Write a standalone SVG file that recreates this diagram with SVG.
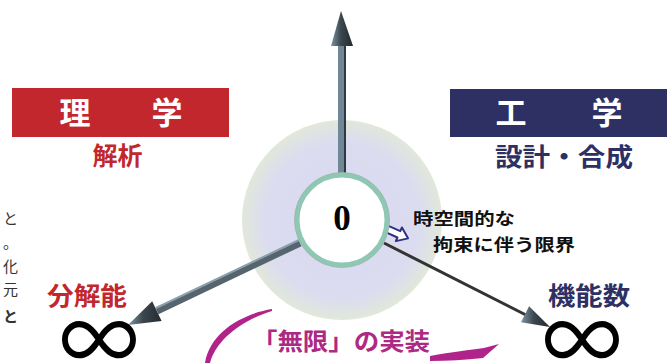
<svg xmlns="http://www.w3.org/2000/svg" width="667" height="363" viewBox="0 0 667 363">
<style>
.jp{font-family:"Noto Sans CJK JP","Noto Sans CJK SC",sans-serif;font-weight:bold}
.hd{font-size:31px;fill:#ffffff;text-anchor:middle}
.red{fill:#c1272d}
.navy{fill:#2e3063}
.mag{fill:#ad2a84}
.inf{font-family:Inter,"DejaVu Sans",sans-serif;font-weight:300;font-size:98px;fill:#000}
.side{font-family:"Noto Sans CJK JP",sans-serif;font-size:15px;fill:#333}
</style>
<defs>
<radialGradient id="halo" cx="0.5" cy="0.5" r="0.5">
<stop offset="0" stop-color="#d8d8f0"/>
<stop offset="0.78" stop-color="#dcdcf0"/>
<stop offset="1" stop-color="#e1e8da"/>
</radialGradient>
<linearGradient id="headG" x1="0" y1="0" x2="1" y2="0">
<stop offset="0" stop-color="#7d96a5"/>
<stop offset="0.45" stop-color="#3b474e"/>
<stop offset="1" stop-color="#232a2e"/>
</linearGradient>
</defs>

<g id="halo-node">
<circle cx="342" cy="220" r="100" fill="url(#halo)"/>
</g>

<g id="connectors">
<line x1="342" y1="174" x2="342" y2="44" stroke="#6f8797" stroke-width="8"/>
<line x1="345" y1="174" x2="345" y2="44" stroke="#2f3a40" stroke-width="2"/>
<polygon points="341,11 331,46 353,46" fill="url(#headG)"/>
<line x1="300" y1="243" x2="157" y2="311" stroke="#56646e" stroke-width="7"/>
<line x1="299" y1="240" x2="156" y2="308" stroke="#8aa0ad" stroke-width="2"/>
<polygon points="128,325 161.6,321.1 152.2,301.3" fill="url(#headG)"/>
<line x1="384" y1="243" x2="526" y2="315" stroke="#333" stroke-width="3"/>
<polygon points="550,327 521,322.3 529.1,306.3" fill="url(#headG)"/>
<polygon transform="translate(387,229) rotate(24)" points="0,-3.5 13,-3.5 13,-7.5 23,0 13,7.5 13,3.5 0,3.5" fill="#ffffff" stroke="#2e3080" stroke-width="2" stroke-linejoin="round"/>
<path d="M272,309 C242,314 210,332 205,363 L210,363 C216,340 242,320 272,311 Z" fill="#b0238a"/>
<path d="M430,356 C452,352 470,350 484,348 L499,344 L483,358 C465,360 448,361 430,361 Z" fill="#b0238a"/>
</g>

<g id="center-node">
<circle cx="342" cy="220" r="45" fill="#ffffff" stroke="#8ec8b4" stroke-width="5"/>
<circle cx="342" cy="220" r="47.5" fill="none" stroke="#9fb4aa" stroke-width="0.8"/>
<text x="342" y="230" text-anchor="middle" font-family="Liberation Serif" font-weight="bold" font-size="35">0</text>
</g>

<g id="rigaku">
<rect x="12" y="88" width="217" height="49" fill="#c1272d"/>
<text class="jp hd" x="75" y="124">理</text>
<text class="jp hd" x="167" y="124">学</text>
<text class="jp red" x="117.5" y="165" font-size="25" text-anchor="middle">解析</text>
</g>

<g id="kougaku">
<rect x="450" y="89" width="217" height="48" fill="#2e3063"/>
<text class="jp hd" x="511" y="124">工</text>
<text class="jp hd" x="607" y="124">学</text>
<text class="jp navy" x="495" y="166" font-size="25" textLength="138" lengthAdjust="spacingAndGlyphs">設計・合成</text>
</g>

<g id="limit-label">
<text class="jp" x="413" y="225" font-size="17" textLength="102" lengthAdjust="spacingAndGlyphs" fill="#111">時空間的な</text>
<text class="jp" x="433" y="251" font-size="17" textLength="142" lengthAdjust="spacingAndGlyphs" fill="#111">拘束に伴う限界</text>
</g>

<g id="resolution-node">
<text class="jp red" x="47" y="305" font-size="25" textLength="80" lengthAdjust="spacingAndGlyphs">分解能</text>
<text class="inf" x="57" y="370" textLength="84" lengthAdjust="spacingAndGlyphs">∞</text>
</g>

<g id="function-node">
<text class="jp navy" x="548" y="305" font-size="25" textLength="82" lengthAdjust="spacingAndGlyphs">機能数</text>
<text class="inf" x="540" y="370" textLength="84" lengthAdjust="spacingAndGlyphs">∞</text>
</g>

<g id="implement-label">
<text class="jp mag" x="252" y="350" font-size="24" textLength="178" lengthAdjust="spacingAndGlyphs">「無限」の実装</text>
</g>

<g id="side-text">
<text class="side" x="3" y="224">と</text>
<text class="side" x="3" y="248">。</text>
<text class="side" x="3" y="272">化</text>
<text class="side" x="3" y="295">元</text>
<text class="side" x="3" y="322" font-weight="bold" fill="#000">と</text>
</g>
</svg>
